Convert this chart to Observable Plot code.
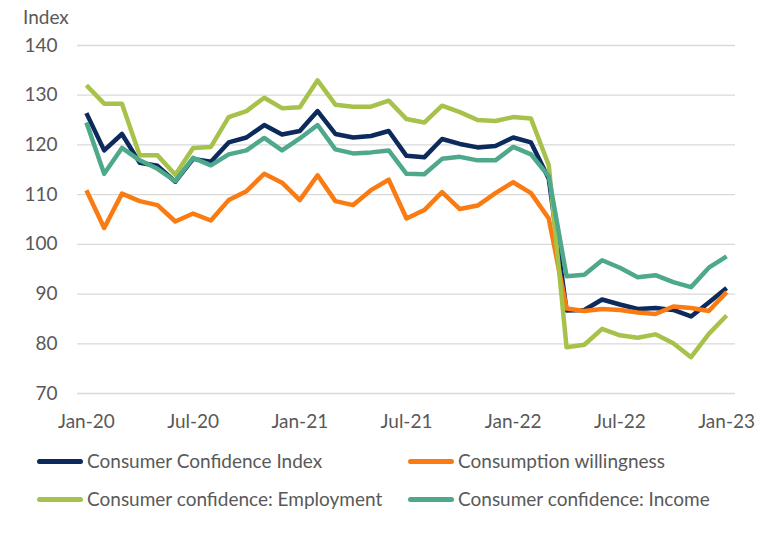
<!DOCTYPE html>
<html><head><meta charset="utf-8">
<script src="https://cdn.jsdelivr.net/npm/d3@7"></script>
<script src="https://cdn.jsdelivr.net/npm/@observablehq/plot@0.6"></script>
<style>
body{margin:0;background:#fff;font-family:Lato,"Open Sans",sans-serif;}
#wrap{position:relative;width:768px;height:535px;overflow:hidden;}
#ylabel{position:absolute;left:23px;top:6px;font-size:19px;color:#595959;line-height:22px;}
.leg{position:absolute;display:flex;align-items:center;font-size:19px;color:#595959;white-space:nowrap;line-height:22px;height:22px;}
.sw{width:46px;height:5px;border-radius:3px;margin-right:4px;}
</style></head><body>
<div id="wrap"><div id="chart"></div><div id="ylabel">Index</div><div id="legend"></div></div>
<script>
const months = ["2020-01","2020-02","2020-03","2020-04","2020-05","2020-06","2020-07","2020-08","2020-09","2020-10","2020-11","2020-12",
"2021-01","2021-02","2021-03","2021-04","2021-05","2021-06","2021-07","2021-08","2021-09","2021-10","2021-11","2021-12",
"2022-01","2022-02","2022-03","2022-04","2022-05","2022-06","2022-07","2022-08","2022-09","2022-10","2022-11","2022-12","2023-01"];
const tickMonths = ["2020-01","2020-07","2021-01","2021-07","2022-01","2022-07","2023-01"];
const tickLabels = ["Jan-20","Jul-20","Jan-21","Jul-21","Jan-22","Jul-22","Jan-23"];
const yTicks = [70,80,90,100,110,120,130,140];

const confidenceIndex = [126.4,118.9,122.2,116.4,115.8,112.6,117.2,116.6,120.5,121.5,124.0,122.1,
122.8,126.8,122.2,121.5,121.8,122.8,117.8,117.5,121.2,120.2,119.5,119.8,
121.5,120.5,113.2,86.7,86.8,88.9,87.9,87.0,87.2,86.8,85.5,88.3,91.2];
const willingness = [110.9,103.3,110.2,108.7,107.9,104.6,106.2,104.8,108.9,110.7,114.2,112.4,
108.9,113.9,108.7,107.9,110.9,113.0,105.2,106.9,110.5,107.1,107.8,110.3,
112.5,110.3,105.2,87.1,86.6,87.0,86.8,86.3,86.0,87.5,87.2,86.6,90.4];
const employment = [132.0,128.3,128.3,117.9,117.9,114.0,119.4,119.6,125.6,126.8,129.5,127.4,
127.6,133.0,128.1,127.7,127.7,128.9,125.2,124.5,127.9,126.6,125.0,124.8,
125.6,125.3,115.9,79.3,79.8,83.0,81.7,81.2,81.9,80.1,77.3,82.0,85.7];
const income = [124.5,114.2,119.4,116.9,115.2,112.7,117.4,115.9,118.1,118.9,121.4,118.9,
121.3,124.0,119.1,118.3,118.5,118.9,114.2,114.1,117.2,117.6,116.9,116.9,
119.6,118.1,113.7,93.6,93.9,96.8,95.3,93.4,93.8,92.4,91.4,95.3,97.6];

const seriesNames = ["Consumer Confidence Index","Consumption willingness","Consumer confidence: Employment","Consumer confidence: Income"];
const seriesColors = ["#0c2a5c","#f97b12","#a7c24a","#4ea88c"];
const seriesValues = [confidenceIndex, willingness, employment, income];

const data = seriesNames.flatMap((name, s) => seriesValues[s].map((v, i) => ({series: name, idx: i, month: months[i], value: v})));
const tickIdx = tickMonths.map(m => months.indexOf(m));
const fmt = i => tickLabels[tickIdx.indexOf(i)];

const chart = Plot.plot({
  width: 768, height: 440,
  marginLeft: 77, marginRight: 33, marginTop: 45, marginBottom: 47,
  style: {fontFamily: "Lato, 'Open Sans', sans-serif", fontSize: "19px", color: "#595959", background: "#fff"},
  x: {type: "linear", domain: [-0.5, months.length - 0.5], label: null},
  y: {domain: [70, 140], label: null},
  color: {domain: seriesNames, range: seriesColors},
  marks: [
    Plot.gridY(yTicks, {stroke: "#d9d9d9", strokeOpacity: 1, strokeWidth: 1.3}),
    Plot.axisX({ticks: tickIdx, tickFormat: fmt, tickSize: 0, tickPadding: 21, fill: "#595959", label: null}),
    Plot.axisY({ticks: yTicks, tickSize: 0, tickPadding: 20, fill: "#595959", label: null}),
    Plot.line(data, {x: "idx", y: "value", z: "series", stroke: "series", strokeWidth: 4.5, strokeLinejoin: "round", strokeLinecap: "butt"})
  ]
});
document.getElementById("chart").appendChild(chart);

const legendPos = [[37,450],[408,450],[37,488],[408,488]];
const leg = document.getElementById("legend");
seriesNames.forEach((name, s) => {
  const d = document.createElement("div");
  d.className = "leg";
  d.style.left = legendPos[s][0] + "px";
  d.style.top = legendPos[s][1] + "px";
  d.innerHTML = `<span class="sw" style="background:${seriesColors[s]}"></span><span>${name}</span>`;
  leg.appendChild(d);
});
</script>
</body></html>
